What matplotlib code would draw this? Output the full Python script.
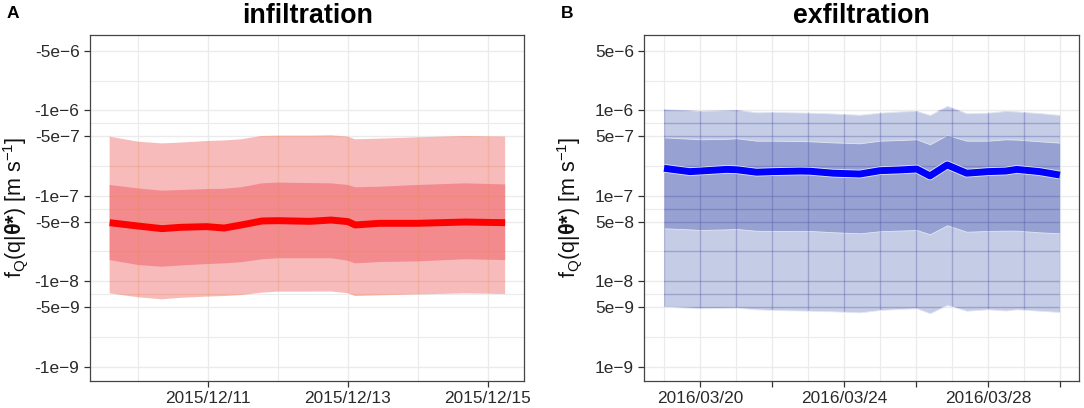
import numpy as np
import pandas as pd
import matplotlib
matplotlib.use("Agg")
import matplotlib.pyplot as plt
import matplotlib.patheffects as pe

plt.rcParams["font.family"] = ["Liberation Sans", "DejaVu Sans"]
plt.rcParams["mathtext.fontset"] = "custom"
plt.rcParams["mathtext.rm"] = "Liberation Sans"
plt.rcParams["mathtext.it"] = "Liberation Sans:italic"
plt.rcParams["mathtext.bf"] = "Liberation Sans:bold"

# infiltration (panel A), magnitudes of the flux
inf_time = ["2015-12-09 14:10", "2015-12-10 00:00", "2015-12-10 08:10", "2015-12-10 14:25",
            "2015-12-10 23:30", "2015-12-11 05:30", "2015-12-11 11:20", "2015-12-11 18:30",
            "2015-12-12 00:00", "2015-12-12 11:00", "2015-12-12 18:15", "2015-12-13 00:00",
            "2015-12-13 02:30", "2015-12-13 10:50", "2015-12-14 00:00", "2015-12-14 16:20",
            "2015-12-15 06:00"]
inf_median = [4.85e-8, 4.43e-8, 4.13e-8, 4.28e-8, 4.36e-8, 4.20e-8, 4.56e-8, 5.08e-8, 5.12e-8,
              5.03e-8, 5.21e-8, 4.99e-8, 4.56e-8, 4.77e-8, 4.77e-8, 4.94e-8, 4.85e-8]
inf_outer_hi = [4.93e-7, 4.30e-7, 4.11e-7, 4.20e-7, 4.38e-7, 4.45e-7, 4.59e-7, 5.02e-7, 5.06e-7,
                5.06e-7, 5.11e-7, 4.93e-7, 4.59e-7, 4.67e-7, 4.84e-7, 5.02e-7, 4.93e-7]
inf_inner_hi = [1.34e-7, 1.22e-7, 1.15e-7, 1.17e-7, 1.20e-7, 1.21e-7, 1.26e-7, 1.40e-7, 1.43e-7,
                1.41e-7, 1.40e-7, 1.34e-7, 1.26e-7, 1.28e-7, 1.34e-7, 1.40e-7, 1.36e-7]
inf_inner_lo = [1.77e-8, 1.55e-8, 1.48e-8, 1.53e-8, 1.59e-8, 1.62e-8, 1.67e-8, 1.81e-8, 1.86e-8,
                1.86e-8, 1.86e-8, 1.74e-8, 1.62e-8, 1.68e-8, 1.71e-8, 1.81e-8, 1.77e-8]
inf_outer_lo = [7.23e-9, 6.49e-9, 6.15e-9, 6.40e-9, 6.61e-9, 6.72e-9, 6.90e-9, 7.36e-9, 7.57e-9,
                7.57e-9, 7.60e-9, 7.23e-9, 6.72e-9, 6.85e-9, 7.03e-9, 7.23e-9, 7.10e-9]

# exfiltration (panel B)
exf_time = ["2016-03-19 00:00", "2016-03-19 17:15", "2016-03-20 00:00", "2016-03-20 17:45",
            "2016-03-21 00:30", "2016-03-21 13:40", "2016-03-22 00:45", "2016-03-22 18:45",
            "2016-03-23 01:25", "2016-03-23 16:50", "2016-03-24 10:35", "2016-03-25 00:00",
            "2016-03-25 13:25", "2016-03-26 00:30", "2016-03-26 09:20", "2016-03-26 20:50",
            "2016-03-27 09:50", "2016-03-28 00:00", "2016-03-28 12:00", "2016-03-28 19:10",
            "2016-03-29 10:35", "2016-03-30 00:00"]
exf_median = [2.10e-7, 1.92e-7, 1.95e-7, 2.04e-7, 2.02e-7, 1.89e-7, 1.92e-7, 1.95e-7, 1.94e-7,
              1.84e-7, 1.80e-7, 1.97e-7, 2.01e-7, 2.06e-7, 1.71e-7, 2.30e-7, 1.84e-7, 1.92e-7,
              1.95e-7, 2.04e-7, 1.92e-7, 1.75e-7]
exf_outer_hi = [1.03e-6, 1.00e-6, 9.84e-7, 1.00e-6, 1.01e-6, 9.50e-7, 9.58e-7, 9.45e-7, 9.40e-7,
                9.20e-7, 8.90e-7, 9.40e-7, 9.70e-7, 9.84e-7, 8.84e-7, 1.13e-6, 9.25e-7, 9.40e-7,
                9.84e-7, 9.70e-7, 9.30e-7, 8.84e-7]
exf_inner_hi = [4.84e-7, 4.66e-7, 4.59e-7, 4.65e-7, 4.72e-7, 4.42e-7, 4.42e-7, 4.38e-7, 4.35e-7,
                4.22e-7, 4.12e-7, 4.42e-7, 4.50e-7, 4.59e-7, 4.01e-7, 5.15e-7, 4.42e-7, 4.42e-7,
                4.59e-7, 4.55e-7, 4.35e-7, 4.19e-7]
exf_inner_lo = [4.17e-8, 4.05e-8, 3.98e-8, 4.05e-8, 4.09e-8, 3.90e-8, 3.88e-8, 3.86e-8, 3.88e-8,
                3.75e-8, 3.64e-8, 3.85e-8, 3.92e-8, 3.98e-8, 3.55e-8, 4.52e-8, 3.80e-8, 3.88e-8,
                3.91e-8, 3.91e-8, 3.74e-8, 3.64e-8]
exf_outer_lo = [5.04e-9, 4.90e-9, 4.83e-9, 4.88e-9, 4.90e-9, 4.70e-9, 4.61e-9, 4.55e-9, 4.52e-9,
                4.45e-9, 4.33e-9, 4.61e-9, 4.75e-9, 4.83e-9, 4.22e-9, 5.28e-9, 4.52e-9, 4.70e-9,
                4.55e-9, 4.70e-9, 4.52e-9, 4.37e-9]

# axis breaks and labels
ytick_vals = [5e-6, 1e-6, 5e-7, 1e-7, 5e-8, 1e-8, 5e-9, 1e-9]
exf_ylabels = ["5e\u22126", "1e\u22126", "5e\u22127", "1e\u22127", "5e\u22128", "1e\u22128", "5e\u22129", "1e\u22129"]
inf_ylabels = ["-" + s for s in exf_ylabels]

inf_xticks = ["2015-12-11", "2015-12-13", "2015-12-15"]
inf_xlabels = ["2015/12/11", "2015/12/13", "2015/12/15"]
inf_xminor = ["2015-12-10", "2015-12-12", "2015-12-14"]
inf_xlim = ["2015-12-09 07:25", "2015-12-15 12:35"]

exf_xticks = ["2016-03-20", "2016-03-22", "2016-03-24", "2016-03-26", "2016-03-28", "2016-03-30"]
exf_xlabels = ["2016/03/20", "", "2016/03/24", "", "2016/03/28", ""]
exf_xminor = ["2016-03-19", "2016-03-21", "2016-03-23", "2016-03-25", "2016-03-27", "2016-03-29"]
exf_xlim = ["2016-03-18 10:50", "2016-03-30 12:45"]

ylim = (6.86e-10, 7.69e-6)

fig = plt.figure(figsize=(10.84, 4.08), dpi=100)
W, H = 1084, 408
ax1 = fig.add_axes([90 / W, (H - 380.7) / H, 434.3 / W, 346 / H])
ax2 = fig.add_axes([644.3 / W, (H - 380.7) / H, 434.7 / W, 346 / H])

ylabel = r"$\mathregular{f_Q(q|}\mathbf{\theta}{\mathbf{*}}\mathregular{)\ [m\ s^{-1}]}$"


def panel(ax, t, med, ohi, ihi, ilo, olo, cols, xt, xl, xm, xlim, ylabels, grid_over, edge):
    t = pd.to_datetime(t)
    outer = ax.fill_between(t, olo, ohi, facecolor=cols[0], edgecolor=edge,
                            linewidth=0.6 if edge != "none" else 0, zorder=1)
    ax.fill_between(t, ilo, ihi, facecolor=cols[1], edgecolor=edge,
                    linewidth=0.6 if edge != "none" else 0, zorder=1.1)
    line, = ax.plot(t, med, color=cols[2], lw=5, solid_capstyle="butt", zorder=3)
    if edge != "none":
        line.set_path_effects([pe.Stroke(linewidth=6.2, foreground=edge), pe.Normal()])

    ax.set_yscale("log")
    ax.set_ylim(*ylim)
    ax.set_yticks(ytick_vals)
    ax.set_yticklabels(ylabels)
    ymin = [np.sqrt(a * b) for a, b in zip(ytick_vals[:-1], ytick_vals[1:])]
    ax.set_yticks(ymin, minor=True)
    ax.set_yticklabels([""] * len(ymin), minor=True)

    ax.set_xlim(pd.to_datetime(xlim))
    ax.set_xticks(pd.to_datetime(xt))
    ax.set_xticklabels(xl)
    ax.set_xticks(pd.to_datetime(xm), minor=True)
    ax.set_xticklabels([""] * len(xm), minor=True)

    ax.set_axisbelow(True)
    ax.grid(which="major", color="#EBEBEB", lw=1.0)
    ax.grid(which="minor", color="#EBEBEB", lw=0.8)

    # grid showing through the ribbons
    path = outer.get_paths()[0]
    for xv in list(pd.to_datetime(xt)) + list(pd.to_datetime(xm)):
        ln = ax.axvline(xv, color=grid_over[0], alpha=grid_over[1], lw=1.0, zorder=1.2)
        ln.set_clip_path(path, outer.get_transform())
    for yv in ytick_vals + ymin:
        ln = ax.axhline(yv, color=grid_over[0], alpha=grid_over[1], lw=1.0, zorder=1.2)
        ln.set_clip_path(path, outer.get_transform())

    ax.tick_params(which="major", length=4, width=0.9, color="#333333",
                   labelsize=12.4, labelcolor="#2a2a2a", pad=3.5)
    ax.tick_params(which="minor", length=0)
    for s in ax.spines.values():
        s.set_color("#444444")
        s.set_linewidth(0.9)
    ax.set_ylabel(ylabel, fontsize=15.5, color="#111111")
    ax.yaxis.set_label_coords(-0.138, 0.5)


panel(ax1, inf_time, inf_median, inf_outer_hi, inf_inner_hi, inf_inner_lo, inf_outer_lo,
      ["#F7BBBC", "#F38B8E", "#FF0000"], inf_xticks, inf_xlabels, inf_xminor, inf_xlim,
      inf_ylabels, ("#E08A40", 0.22), "none")
panel(ax2, exf_time, exf_median, exf_outer_hi, exf_inner_hi, exf_inner_lo, exf_outer_lo,
      ["#C5CCE6", "#97A2D3", "#0000FF"], exf_xticks, exf_xlabels, exf_xminor, exf_xlim,
      exf_ylabels, ("#4A4FA0", 0.33), "#E3E7F2")

fig.text(307.2 / W, 1 - 23.3 / H, "infiltration", ha="center", va="baseline",
         fontsize=19.3, fontweight="bold")
fig.text(861.7 / W, 1 - 23.3 / H, "exfiltration", ha="center", va="baseline",
         fontsize=19.3, fontweight="bold")
fig.text(7 / W, 1 - 18 / H, "A", ha="left", va="baseline", fontsize=12.5, fontweight="bold")
fig.text(561 / W, 1 - 18 / H, "B", ha="left", va="baseline", fontsize=12.5, fontweight="bold")

fig.savefig("out.png", dpi=100)
